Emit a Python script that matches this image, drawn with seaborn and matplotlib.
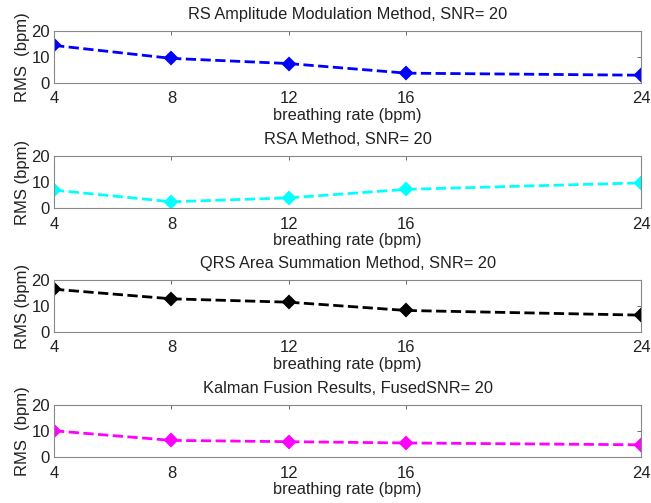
import seaborn as sns
import matplotlib.pyplot as plt
import pandas as pd

# data
breathing_rate = [4, 8, 12, 16, 24]
rs_amplitude = [14.5, 9.5, 7.5, 3.8, 3.0]
rsa = [7.0, 2.5, 4.0, 7.3, 9.8]
qrs_area = [16.5, 12.8, 11.5, 8.3, 6.5]
kalman_fused = [10.2, 6.5, 6.0, 5.5, 4.8]

titles = [
    "RS Amplitude Modulation Method, SNR= 20",
    "RSA Method, SNR= 20",
    "QRS Area Summation Method, SNR= 20",
    "Kalman Fusion Results, FusedSNR= 20",
]
ylabels = ["RMS  (bpm)", "RMS (bpm)", "RMS (bpm)", "RMS  (bpm)"]
series = [rs_amplitude, rsa, qrs_area, kalman_fused]
colors = ["#0000ff", "#00ffff", "#000000", "#ff00ff"]

sns.set_style("white")
plt.rcParams["font.family"] = ["Liberation Sans", "DejaVu Sans"]
plt.rcParams["xtick.direction"] = "in"
plt.rcParams["ytick.direction"] = "in"

fig = plt.figure(figsize=(6.51, 5.03), dpi=100)
bottoms = [0.835, 0.586, 0.340, 0.091]

for vals, title, ylab, col, b in zip(series, titles, ylabels, colors, bottoms):
    ax = fig.add_axes([0.083, b, 0.902, 0.103])
    df = pd.DataFrame({"rate": breathing_rate, "rms": vals})
    sns.lineplot(data=df, x="rate", y="rms", ax=ax, color=col, linestyle="--",
                 linewidth=2, marker="D", markersize=6, markeredgecolor=col,
                 markerfacecolor=col, markeredgewidth=1.5)
    ax.set_xlim(4, 24)
    ax.set_ylim(0, 20)
    ax.set_xticks(breathing_rate)
    ax.set_yticks([0, 10, 20])
    ax.tick_params(labelsize=12, top=True, right=True, length=3, width=0.6,
                   color="#555555", labelcolor="#222222")
    ax.tick_params(axis="x", pad=6)
    ax.tick_params(axis="y", pad=3)
    for s in ax.spines.values():
        s.set_color("#888888")
        s.set_linewidth(0.8)
    ax.set_title(title, fontsize=11.8, pad=9, color="#222222")
    ax.set_xlabel("breathing rate (bpm)", fontsize=11.8, labelpad=1, color="#222222")
    ax.set_ylabel(ylab, fontsize=12, labelpad=1, color="#222222")

fig.savefig("out.png", dpi=100)
